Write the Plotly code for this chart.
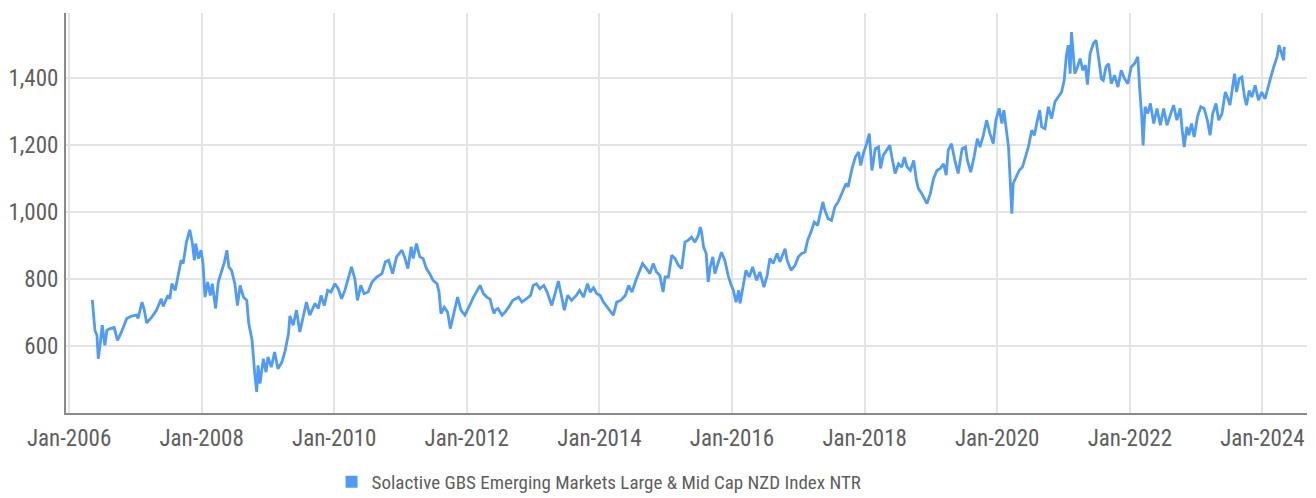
import pandas as pd
import plotly.graph_objects as go

SERIES_NAME = "Solactive GBS Emerging Markets Large & Mid Cap NZD Index NTR"

# Observation times (decimal years) and index levels
period_year = [
    2006.35, 2006.39, 2006.42, 2006.44, 2006.47, 2006.50, 2006.54, 2006.57, 2006.62, 2006.68,
    2006.73, 2006.79, 2006.87, 2006.94, 2007.02, 2007.04, 2007.10, 2007.13, 2007.17, 2007.25,
    2007.32, 2007.39, 2007.42, 2007.49, 2007.52, 2007.55, 2007.60, 2007.65, 2007.69, 2007.72,
    2007.77, 2007.82, 2007.86, 2007.89, 2007.91, 2007.95, 2007.99, 2008.02, 2008.05, 2008.09,
    2008.13, 2008.16, 2008.21, 2008.25, 2008.30, 2008.34, 2008.38, 2008.41, 2008.45, 2008.50,
    2008.54, 2008.58, 2008.63, 2008.68, 2008.71, 2008.76, 2008.80, 2008.83, 2008.85, 2008.88,
    2008.93, 2008.97, 2009.00, 2009.05, 2009.10, 2009.15, 2009.21, 2009.26, 2009.31, 2009.33,
    2009.38, 2009.43, 2009.48, 2009.53, 2009.58, 2009.63, 2009.71, 2009.76, 2009.80, 2009.85,
    2009.90, 2009.95, 2010.01, 2010.06, 2010.11, 2010.16, 2010.21, 2010.26, 2010.31, 2010.35,
    2010.40, 2010.45, 2010.51, 2010.57, 2010.64, 2010.72, 2010.77, 2010.82, 2010.88, 2010.94,
    2011.02, 2011.06, 2011.11, 2011.16, 2011.19, 2011.24, 2011.29, 2011.34, 2011.39, 2011.44,
    2011.49, 2011.55, 2011.58, 2011.61, 2011.66, 2011.71, 2011.75, 2011.80, 2011.86, 2011.91,
    2011.97, 2012.03, 2012.10, 2012.20, 2012.25, 2012.30, 2012.35, 2012.38, 2012.41, 2012.43,
    2012.47, 2012.53, 2012.58, 2012.63, 2012.69, 2012.78, 2012.83, 2012.90, 2012.96, 2013.00,
    2013.05, 2013.10, 2013.16, 2013.21, 2013.28, 2013.33, 2013.38, 2013.43, 2013.47, 2013.52,
    2013.58, 2013.65, 2013.70, 2013.76, 2013.82, 2013.86, 2013.91, 2013.96, 2014.01, 2014.06,
    2014.11, 2014.17, 2014.21, 2014.26, 2014.32, 2014.39, 2014.44, 2014.49, 2014.55, 2014.59,
    2014.65, 2014.71, 2014.76, 2014.81, 2014.86, 2014.91, 2014.96, 2014.99, 2015.04, 2015.09,
    2015.14, 2015.19, 2015.24, 2015.29, 2015.34, 2015.39, 2015.44, 2015.49, 2015.52, 2015.54,
    2015.57, 2015.61, 2015.64, 2015.67, 2015.71, 2015.74, 2015.79, 2015.84, 2015.89, 2015.94,
    2015.98, 2016.02, 2016.06, 2016.10, 2016.12, 2016.17, 2016.21, 2016.26, 2016.31, 2016.37,
    2016.42, 2016.48, 2016.53, 2016.57, 2016.62, 2016.68, 2016.72, 2016.80, 2016.83, 2016.89,
    2016.95, 2017.00, 2017.05, 2017.10, 2017.14, 2017.19, 2017.24, 2017.29, 2017.33, 2017.37,
    2017.40, 2017.45, 2017.50, 2017.55, 2017.60, 2017.67, 2017.72, 2017.75, 2017.81, 2017.86,
    2017.91, 2017.94, 2017.98, 2018.03, 2018.07, 2018.11, 2018.16, 2018.21, 2018.24, 2018.28,
    2018.33, 2018.38, 2018.41, 2018.46, 2018.51, 2018.56, 2018.60, 2018.64, 2018.69, 2018.74,
    2018.78, 2018.81, 2018.86, 2018.94, 2018.99, 2019.04, 2019.09, 2019.14, 2019.19, 2019.23,
    2019.26, 2019.31, 2019.36, 2019.41, 2019.47, 2019.52, 2019.55, 2019.60, 2019.65, 2019.70,
    2019.74, 2019.79, 2019.84, 2019.89, 2019.94, 2019.98, 2020.03, 2020.07, 2020.10, 2020.14,
    2020.17, 2020.19, 2020.22, 2020.24, 2020.28, 2020.33, 2020.38, 2020.43, 2020.47, 2020.52,
    2020.56, 2020.60, 2020.64, 2020.67, 2020.72, 2020.77, 2020.82, 2020.87, 2020.92, 2020.97,
    2021.01, 2021.04, 2021.07, 2021.10, 2021.12, 2021.15, 2021.17, 2021.21, 2021.25, 2021.29,
    2021.33, 2021.36, 2021.40, 2021.45, 2021.49, 2021.53, 2021.57, 2021.60, 2021.64, 2021.68,
    2021.72, 2021.77, 2021.82, 2021.87, 2021.92, 2021.97, 2022.02, 2022.07, 2022.12, 2022.15,
    2022.18, 2022.20, 2022.23, 2022.27, 2022.31, 2022.36, 2022.41, 2022.46, 2022.51, 2022.56,
    2022.61, 2022.66, 2022.71, 2022.76, 2022.79, 2022.82, 2022.86, 2022.89, 2022.93, 2022.97,
    2023.02, 2023.07, 2023.12, 2023.17, 2023.21, 2023.25, 2023.30, 2023.34, 2023.39, 2023.44,
    2023.48, 2023.51, 2023.55, 2023.58, 2023.61, 2023.65, 2023.69, 2023.73, 2023.76, 2023.80,
    2023.84, 2023.89, 2023.94, 2023.99, 2024.04, 2024.08, 2024.12, 2024.17, 2024.22, 2024.25,
    2024.29, 2024.32, 2024.33,
]

index_level = [
    738, 647, 632, 562, 607, 662, 602, 647, 652, 655,
    617, 642, 682, 689, 692, 682, 731, 712, 669, 687,
    707, 741, 718, 751, 741, 786, 766, 811, 856, 846,
    910, 947, 906, 856, 906, 861, 886, 846, 746, 791,
    751, 786, 712, 791, 821, 848, 886, 836, 826, 786,
    721, 781, 746, 736, 667, 617, 518, 463, 542, 488,
    562, 522, 567, 537, 582, 532, 552, 587, 637, 690,
    662, 707, 642, 687, 731, 692, 727, 712, 751, 721,
    766, 761, 786, 771, 741, 766, 801, 836, 801, 736,
    781, 756, 761, 791, 806, 816, 851, 856, 816, 866,
    886, 866, 831, 896, 861, 906, 866, 861, 831, 816,
    796, 786, 761, 697, 716, 701, 652, 697, 746, 707,
    692, 716, 746, 781, 756, 746, 740, 716, 697, 707,
    712, 692, 702, 716, 736, 746, 731, 741, 751, 781,
    786, 771, 781, 761, 721, 756, 794, 746, 707, 751,
    736, 751, 766, 746, 786, 761, 774, 756, 751, 731,
    716, 702, 692, 731, 736, 751, 781, 761, 796, 816,
    846, 831, 816, 846, 821, 811, 761, 806, 806, 871,
    861, 841, 831, 910, 916, 925, 910, 930, 955, 940,
    896, 876, 791, 836, 866, 816, 851, 880, 856, 811,
    786, 766, 731, 766, 727, 786, 826, 806, 836, 796,
    821, 776, 811, 861, 846, 876, 851, 890, 856, 826,
    841, 866, 876, 880, 916, 940, 970, 960, 1000, 1030,
    1005, 980, 975, 1015, 1030, 1065, 1085, 1075, 1130, 1164,
    1179, 1139, 1174, 1204, 1234, 1124, 1189, 1194, 1130, 1169,
    1184, 1199, 1164, 1115, 1144, 1134, 1164, 1134, 1124, 1154,
    1095, 1070, 1055, 1025, 1055, 1100, 1124, 1130, 1144, 1110,
    1184, 1204, 1154, 1115, 1189, 1194, 1154, 1119, 1164, 1219,
    1194, 1229, 1274, 1234, 1204, 1274, 1309, 1264, 1304, 1244,
    1194, 1115, 995, 1085, 1105, 1124, 1134, 1164, 1194, 1244,
    1229, 1269, 1304, 1254, 1249, 1314, 1279, 1329, 1343, 1358,
    1393, 1463, 1498, 1413, 1537, 1453, 1413, 1433, 1458, 1423,
    1438, 1380, 1473, 1503, 1513, 1458, 1398, 1393, 1433, 1443,
    1383, 1408, 1373, 1423, 1398, 1383, 1433, 1443, 1463, 1363,
    1284, 1199, 1314, 1294, 1324, 1264, 1309, 1259, 1309, 1259,
    1289, 1319, 1274, 1309, 1244, 1194, 1254, 1229, 1264, 1224,
    1284, 1314, 1309, 1274, 1229, 1294, 1324, 1274, 1294, 1358,
    1338, 1319, 1373, 1413, 1358, 1398, 1403, 1343, 1319, 1363,
    1343, 1378, 1334, 1358, 1338, 1373, 1398, 1433, 1463, 1498,
    1473, 1453, 1493,
]

# Axis ticks
x_tick_dates = ["2006-01-01", "2008-01-01", "2010-01-01", "2012-01-01", "2014-01-01",
                "2016-01-01", "2018-01-01", "2020-01-01", "2022-01-01", "2024-01-01"]
x_tick_labels = ["Jan-2006", "Jan-2008", "Jan-2010", "Jan-2012", "Jan-2014",
                 "Jan-2016", "Jan-2018", "Jan-2020", "Jan-2022", "Jan-2024"]
y_tick_values = [600, 800, 1000, 1200, 1400]
y_tick_labels = ["600", "800", "1,000", "1,200", "1,400"]

# Convert decimal years to calendar dates
base = pd.Timestamp("2006-01-01")
dates = [base + pd.Timedelta(days=(t - 2006.0) * 365.25) for t in period_year]

LINE_COLOR = "#4F9BF6"
TEXT_COLOR = "#5E5E5E"
GRID_COLOR = "#E4E4E4"
AXIS_COLOR = "#8A8A8A"
FONT = "Roboto Condensed, DejaVu Sans Condensed, sans-serif"

fig = go.Figure()

fig.add_trace(go.Scatter(
    x=dates,
    y=index_level,
    mode="lines",
    line=dict(color=LINE_COLOR, width=2.8),
    name=SERIES_NAME,
    showlegend=False,
))

# Legend entry with a square swatch
fig.add_trace(go.Scatter(
    x=[None],
    y=[None],
    mode="markers",
    marker=dict(symbol="square", size=9, color=LINE_COLOR),
    name=SERIES_NAME,
    showlegend=True,
))

fig.update_layout(
    width=1316,
    height=498,
    margin=dict(l=66, r=9, t=13, b=85, autoexpand=False),
    paper_bgcolor="white",
    plot_bgcolor="white",
    font=dict(family=FONT, color=TEXT_COLOR, size=22),
    showlegend=True,
    legend=dict(
        orientation="h",
        x=0.214,
        xanchor="left",
        y=-0.1725,
        yanchor="middle",
        font=dict(family=FONT, color=TEXT_COLOR, size=19),
        bgcolor="rgba(0,0,0,0)",
        itemsizing="constant",
    ),
    xaxis=dict(
        type="date",
        range=["2005-12-15", "2024-09-03"],
        tickmode="array",
        tickvals=x_tick_dates,
        ticktext=x_tick_labels,
        showgrid=True,
        gridcolor=GRID_COLOR,
        gridwidth=2,
        showline=True,
        linecolor=AXIS_COLOR,
        linewidth=2,
        ticks="",
        ticklabelstandoff=3,
        tickfont=dict(family=FONT, color=TEXT_COLOR, size=23),
        zeroline=False,
        automargin=False,
    ),
    yaxis=dict(
        range=[400, 1594],
        tickmode="array",
        tickvals=y_tick_values,
        ticktext=y_tick_labels,
        showgrid=True,
        gridcolor=GRID_COLOR,
        gridwidth=2,
        showline=True,
        linecolor=AXIS_COLOR,
        linewidth=2,
        ticks="",
        ticklabelstandoff=1,
        tickfont=dict(family=FONT, color=TEXT_COLOR, size=23),
        zeroline=False,
        automargin=False,
    ),
)

fig.write_html("out.html")
